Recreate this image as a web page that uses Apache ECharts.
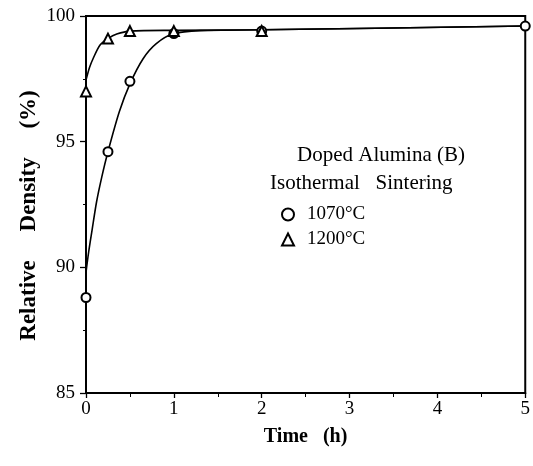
<!DOCTYPE html>
<html>
<head>
<meta charset="utf-8">
<script src="https://cdn.jsdelivr.net/npm/echarts@6/dist/echarts.min.js"></script>
<style>html,body{margin:0;padding:0;background:#fff;}#c{width:533px;height:466px;}</style>
</head>
<body>
<div id="c"></div>
<script>
// measured points
var pts1070 = [[0, 88.8], [0.25, 94.6], [0.5, 97.4], [1, 99.3], [2, 99.4], [5, 99.6]];
var pts1200 = [[0, 97.0], [0.25, 99.1], [0.5, 99.4], [1, 99.4], [2, 99.4]];
// fitted curves as drawn in the figure
var curve1070 = [[0, 89.8], [0.03, 90.6], [0.07, 91.5], [0.12, 92.6], [0.18, 93.6], [0.25, 94.6], [0.38, 96.2], [0.5, 97.3], [0.65, 98.3], [0.8, 98.9], [1, 99.3], [1.3, 99.42], [2, 99.45], [5, 99.6]];
var curve1200 = [[0, 97.45], [0.04, 97.95], [0.08, 98.3], [0.16, 98.85], [0.25, 99.1], [0.35, 99.28], [0.5, 99.4], [1, 99.43], [2, 99.45], [5, 99.6]];
var xTicks = [0, 1, 2, 3, 4, 5];
var yTicks = [85, 90, 95, 100];
var annotation = ['Doped Alumina (B)', 'Isothermal   Sintering'];

var serif = '"Liberation Serif", "DejaVu Serif", serif';
var chart = echarts.init(document.getElementById('c'));
chart.setOption({
  animation: false,
  backgroundColor: '#fff',
  grid: {left: 86, right: 7, top: 16, bottom: 73, show: true, borderColor: '#000', borderWidth: 2},
  xAxis: {
    type: 'value', min: xTicks[0], max: xTicks[xTicks.length - 1], interval: 1,
    name: 'Time   (h)', nameLocation: 'middle', nameGap: 34,
    nameTextStyle: {fontFamily: serif, fontWeight: 'bold', fontSize: 20, color: '#000'},
    axisLine: {lineStyle: {color: '#000', width: 2}},
    axisTick: {length: 5, lineStyle: {color: '#000', width: 1.3}},
    minorTick: {show: true, splitNumber: 2, length: 4, lineStyle: {color: '#000', width: 1}},
    splitLine: {show: false},
    axisLabel: {fontFamily: serif, fontSize: 19, color: '#000', margin: 7}
  },
  yAxis: {
    type: 'value', min: yTicks[0], max: yTicks[yTicks.length - 1], interval: 5,
    name: 'Relative     Density     (%)', nameLocation: 'middle', nameGap: 45, nameMoveOverlap: false,
    nameTextStyle: {fontFamily: serif, fontWeight: 'bold', fontSize: 23, color: '#000', padding: [0, 22, 0, 0]},
    axisLine: {lineStyle: {color: '#000', width: 2}},
    axisTick: {length: 6, lineStyle: {color: '#000', width: 1.3}},
    minorTick: {show: true, splitNumber: 2, length: 3, lineStyle: {color: '#000', width: 1}},
    splitLine: {show: false},
    axisLabel: {fontFamily: serif, fontSize: 19, color: '#000', margin: 11}
  },
  legend: {
    orient: 'vertical', left: 276, top: 200, itemGap: 6, itemWidth: 12, itemHeight: 12,
    data: ['1070°C', '1200°C'],
    textStyle: {fontFamily: serif, fontSize: 19, color: '#000', padding: [0, 0, 0, 8]}
  },
  graphic: [
    {type: 'text', left: 297, top: 145, style: {text: annotation[0], font: '21px ' + serif, fill: '#000'}},
    {type: 'text', left: 270, top: 173, style: {text: annotation[1], font: '21px ' + serif, fill: '#000'}}
  ],
  series: [
    {type: 'line', data: curve1070, smooth: 0.3, showSymbol: false, lineStyle: {color: '#000', width: 1.6}, silent: true, z: 2},
    {type: 'line', data: curve1200, smooth: 0.3, showSymbol: false, lineStyle: {color: '#000', width: 1.6}, silent: true, z: 2},
    {name: '1070°C', type: 'scatter', data: pts1070, symbol: 'circle', symbolSize: 9,
     itemStyle: {color: '#fff', borderColor: '#000', borderWidth: 2, opacity: 1}, z: 5},
    {name: '1200°C', type: 'scatter', data: pts1200, symbol: 'triangle', symbolSize: 10,
     itemStyle: {color: '#fff', borderColor: '#000', borderWidth: 2, opacity: 1}, z: 5}
  ]
});
</script>
</body>
</html>
